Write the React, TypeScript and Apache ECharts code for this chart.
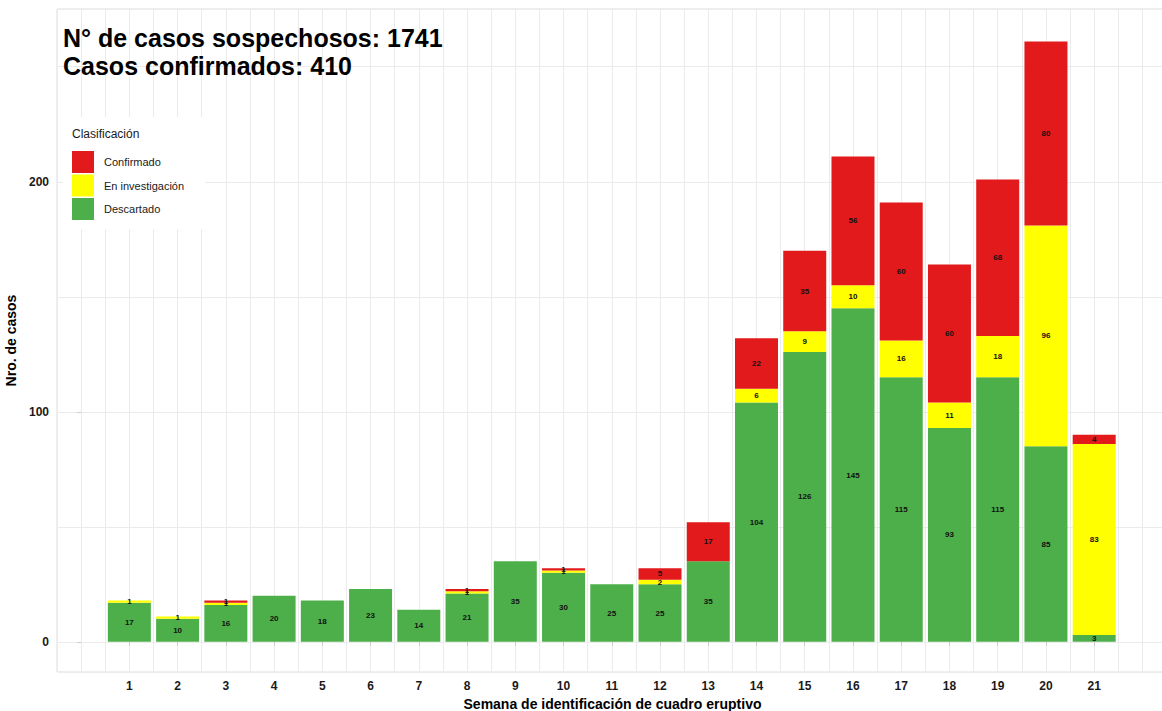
import React, { useEffect, useRef } from "react";
import * as echarts from "echarts";

const weeks = [1, 2, 3, 4, 5, 6, 7, 8, 9, 10, 11, 12, 13, 14, 15, 16, 17, 18, 19, 20, 21];
const descartado = [17, 10, 16, 20, 18, 23, 14, 21, 35, 30, 25, 25, 35, 104, 126, 145, 115, 93, 115, 85, 3];
const investigacion = [1, 1, 1, 0, 0, 0, 0, 1, 0, 1, 0, 2, 0, 6, 9, 10, 16, 11, 18, 96, 83];
const confirmado = [0, 0, 1, 0, 0, 0, 0, 1, 0, 1, 0, 5, 17, 22, 35, 56, 60, 60, 68, 80, 4];
const yLabelValues = [0, 100, 200];
const yGridValues = [0, 50, 100, 150, 200, 250];
const titleLines = ["N° de casos sospechosos: 1741", "Casos confirmados: 410"];
const seriesNames = ["Descartado", "En investigación", "Confirmado"];
const legendOrder = ["Confirmado", "En investigación", "Descartado"];
const colors = { Descartado: "#4DAF4A", "En investigación": "#FFFF00", Confirmado: "#E31A1C" };

const FONT = "'Liberation Sans', Arial, sans-serif";

export default function App() {
  const ref = useRef<HTMLDivElement>(null);
  useEffect(() => {
    if (!ref.current) return;
    const chart = echarts.init(ref.current, undefined, { renderer: "svg" });
    const dataSets = [descartado, investigacion, confirmado];
    const xMin = -0.5;
    const xMax = 22.53;
    const yMin = -13.1;
    const yMax = 275.1;
    const labelStyle = {
      show: true,
      position: "inside",
      fontSize: 8,
      fontWeight: "bold",
      color: "#111",
      fontFamily: FONT,
      formatter: (p: any) => (p.value[0] === 0 ? "" : String(p.value[0])),
    };
    chart.setOption({
      animation: false,
      textStyle: { fontFamily: FONT },
      title: {
        text: titleLines.join("\n"),
        left: 58,
        top: 19,
        textStyle: { fontSize: 25, fontWeight: "bold", color: "#000", lineHeight: 28, fontFamily: FONT },
      },
      grid: {
        left: 57,
        top: 9,
        right: -6,
        bottom: 39,
        show: true,
        borderColor: "#dcdcdc",
        borderWidth: 1,
        outerBoundsMode: "none",
        containLabel: false,
      },
      graphic: [
        {
          type: "rect",
          shape: { x: 63, y: 117, width: 142, height: 112 },
          style: { fill: "#ffffff" },
          z: 5,
        },
        {
          type: "text",
          x: 72,
          y: 128,
          style: { text: "Clasificación", fontSize: 12, fill: "#1a1a1a", fontFamily: FONT },
          z: 6,
        },
      ],
      legend: {
        data: legendOrder,
        orient: "vertical",
        left: 72,
        top: 151,
        padding: 0,
        icon: "rect",
        itemWidth: 22,
        itemHeight: 22,
        itemGap: 1.5,
        selectedMode: false,
        z: 7,
        textStyle: { fontSize: 11, color: "#1a1a1a", fontFamily: FONT, padding: [0, 0, 0, 5] },
      },
      xAxis: [
        {
          type: "value",
          min: xMin,
          max: xMax,
          interval: 0.5,
          name: "Semana de identificación de cuadro eruptivo",
          nameLocation: "middle",
          nameGap: 23,
          nameTextStyle: { fontSize: 14, fontWeight: "bold", color: "#000", fontFamily: FONT },
          axisLine: { show: false },
          axisTick: { show: false },
          axisLabel: {
            customValues: weeks,
            fontSize: 12,
            fontWeight: "bold",
            color: "#1a1a1a",
            margin: 8,
            fontFamily: FONT,
          },
          splitLine: { show: true, lineStyle: { color: "#ebebeb", width: 1 } },
        },
        {
          type: "value",
          min: xMin,
          max: xMax,
          position: "bottom",
          axisLine: { show: false },
          axisLabel: { show: false },
          splitLine: { show: false },
          axisTick: { show: true, customValues: weeks, length: 4, lineStyle: { color: "#cccccc" } },
        },
      ],
      yAxis: [
        {
          type: "value",
          min: yMin,
          max: yMax,
          name: "Nro. de casos",
          nameLocation: "middle",
          nameRotate: 90,
          nameGap: 30,
          nameTextStyle: { fontSize: 14, fontWeight: "bold", color: "#000", fontFamily: FONT },
          axisLine: { show: false },
          axisTick: { show: false, customValues: yGridValues },
          axisLabel: {
            customValues: yLabelValues,
            fontSize: 12,
            fontWeight: "bold",
            color: "#1a1a1a",
            margin: 8,
            fontFamily: FONT,
          },
          splitLine: { show: true, lineStyle: { color: "#ebebeb", width: 1 } },
        },
        {
          type: "value",
          min: yMin,
          max: yMax,
          position: "left",
          axisLine: { show: false },
          axisLabel: { show: false },
          splitLine: { show: false },
          axisTick: { show: true, customValues: yLabelValues, length: 4, lineStyle: { color: "#cccccc" } },
        },
      ],
      series: seriesNames.map((name, i) => ({
        name,
        type: "bar",
        stack: "total",
        xAxisIndex: 0,
        yAxisIndex: 0,
        barWidth: 43,
        itemStyle: { color: (colors as any)[name] },
        label: labelStyle,
        encode: { x: 1, y: 0 },
        data: weeks.map((w, j) => [dataSets[i][j], w]),
      })),
    });
    return () => chart.dispose();
  }, []);
  return (
    <div
      ref={ref}
      style={{ position: "fixed", left: 0, top: 0, width: 1162, height: 711, background: "#fff" }}
    />
  );
}
